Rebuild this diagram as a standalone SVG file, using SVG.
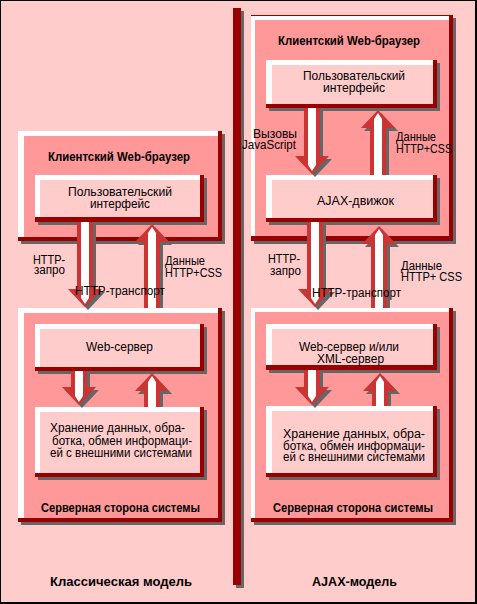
<svg xmlns="http://www.w3.org/2000/svg" width="477" height="604" viewBox="0 0 477 604">
<style>
.t{font-family:"Liberation Sans Narrow","Liberation Sans",Arial,sans-serif;font-size:12px;fill:#000}
.b{font-family:"Liberation Sans Narrow","Liberation Sans",Arial,sans-serif;font-size:13.5px;font-weight:bold;fill:#000}
.sh{fill:#666666}
.dr{fill:#990000}
.wh{fill:#FFFFFF}
.of{fill:#FF9999}
.if{fill:#FFCCCC}
.ar{fill:#CC3333}
</style>
<rect x="0" y="0" width="477" height="604" fill="#FFCCCC"/>
<rect x="0" y="0" width="477" height="1" fill="#000"/>
<rect x="0" y="0" width="1" height="604" fill="#000"/>
<rect x="475" y="0" width="2" height="604" fill="#000"/>
<rect x="0" y="602" width="477" height="2" fill="#000"/>

<g id="divider">
<rect class="sh" x="236" y="11" width="8" height="577"/>
<rect class="dr" x="233" y="8" width="8" height="577"/>
</g>

<!-- Classic model -->
<g id="classic-browser">
<rect class="sh" x="21" y="134" width="204" height="110"/>
<rect class="dr" x="18" y="131" width="204" height="110"/>
<rect class="wh" x="18" y="131" width="200" height="106"/>
<rect class="of" x="24" y="136" width="194" height="101"/>
</g>
<g id="classic-server">
<rect class="sh" x="21" y="311" width="204" height="214"/>
<rect class="dr" x="18" y="308" width="204" height="214"/>
<rect class="wh" x="18" y="308" width="200" height="210"/>
<rect class="of" x="24" y="313" width="194" height="205"/>
</g>
<g id="classic-ui">
<rect class="sh" x="38" y="178" width="169" height="47"/>
<rect class="dr" x="35" y="175" width="169" height="47"/>
<rect class="wh" x="35" y="175" width="165" height="42"/>
<rect class="if" x="40" y="180" width="160" height="37"/>
</g>
<g id="classic-webserver">
<rect class="sh" x="38" y="327" width="169" height="47"/>
<rect class="dr" x="35" y="324" width="169" height="47"/>
<rect class="wh" x="35" y="324" width="165" height="43"/>
<rect class="if" x="40" y="329" width="160" height="38"/>
</g>
<g id="classic-data">
<rect class="sh" x="38" y="410" width="169" height="70"/>
<rect class="dr" x="35" y="407" width="169" height="70"/>
<rect class="wh" x="35" y="407" width="165" height="66"/>
<rect class="if" x="40" y="412" width="160" height="61"/>
</g>

<!-- AJAX model -->
<g id="ajax-browser">
<rect class="sh" x="254" y="18" width="202" height="226"/>
<rect class="dr" x="251" y="15" width="202" height="226"/>
<rect class="wh" x="251" y="16" width="198" height="220"/>
<rect class="of" x="255" y="20" width="194" height="216"/>
</g>
<g id="ajax-server">
<rect class="sh" x="254" y="311" width="202" height="214"/>
<rect class="dr" x="251" y="308" width="202" height="214"/>
<rect class="wh" x="251" y="308" width="198" height="210"/>
<rect class="of" x="255" y="312" width="194" height="206"/>
</g>
<g id="ajax-ui">
<rect class="sh" x="269" y="63" width="171" height="48"/>
<rect class="dr" x="266" y="60" width="171" height="48"/>
<rect class="wh" x="266" y="60" width="167" height="44"/>
<rect class="if" x="272" y="65" width="161" height="39"/>
</g>
<g id="ajax-engine">
<rect class="sh" x="269" y="178" width="171" height="47"/>
<rect class="dr" x="266" y="175" width="171" height="47"/>
<rect class="wh" x="266" y="175" width="167" height="43"/>
<rect class="if" x="272" y="180" width="161" height="38"/>
</g>
<g id="ajax-webserver">
<rect class="sh" x="269" y="327" width="171" height="46"/>
<rect class="dr" x="266" y="324" width="171" height="46"/>
<rect class="wh" x="266" y="324" width="167" height="41"/>
<rect class="if" x="272" y="329" width="161" height="36"/>
</g>
<g id="ajax-data">
<rect class="sh" x="269" y="409" width="171" height="71"/>
<rect class="dr" x="266" y="406" width="171" height="71"/>
<rect class="wh" x="266" y="406" width="167" height="67"/>
<rect class="if" x="272" y="411" width="161" height="62"/>
</g>

<g id="connectors">
<path class="sh" transform="translate(3,3)" d="M77,222 H93 V289 H102 L85,307 L68,289 H77 Z"/>
<path class="ar" d="M77,222 H93 V289 H102 L85,307 L68,289 H77 Z"/>
<path class="wh" d="M81,222 H89 V298 L85,304 L81,298 Z"/>
<path class="sh" transform="translate(3,3)" d="M144,305 V242 H135 L152,224 L169,242 H160 V305 Z"/>
<path class="ar" d="M144,308 V242 H135 L152,224 L169,242 H160 V308 Z"/>
<path class="wh" d="M148,308 V233 L152,227 L156,233 V308 Z"/>
<path class="sh" transform="translate(3,3)" d="M71,371 H87 V387 H96 L79,405 L62,387 H71 Z"/>
<path class="ar" d="M71,371 H87 V387 H96 L79,405 L62,387 H71 Z"/>
<path class="wh" d="M75,371 H83 V396 L79,402 L75,396 Z"/>
<path class="sh" transform="translate(3,3)" d="M144,404 V391 H135 L152,373 L169,391 H160 V404 Z"/>
<path class="ar" d="M144,407 V391 H135 L152,373 L169,391 H160 V407 Z"/>
<path class="wh" d="M148,407 V382 L152,376 L156,382 V407 Z"/>

<path class="sh" transform="translate(3,3)" d="M304,108 H320 V156 H329 L312,174 L295,156 H304 Z"/>
<path class="ar" d="M304,108 H320 V156 H329 L312,174 L295,156 H304 Z"/>
<path class="wh" d="M308,108 H316 V165 L312,171 L308,165 Z"/>
<path class="sh" transform="translate(3,3)" d="M370,172 V128 H361 L378,110 L395,128 H386 V172 Z"/>
<path class="ar" d="M370,175 V128 H361 L378,110 L395,128 H386 V175 Z"/>
<path class="wh" d="M374,175 V119 L378,113 L382,119 V175 Z"/>
<path class="sh" transform="translate(3,3)" d="M307,222 H323 V289 H332 L315,307 L298,289 H307 Z"/>
<path class="ar" d="M307,222 H323 V289 H332 L315,307 L298,289 H307 Z"/>
<path class="wh" d="M311,222 H319 V298 L315,304 L311,298 Z"/>
<path class="sh" transform="translate(3,3)" d="M371,305 V244 H362 L379,226 L396,244 H387 V305 Z"/>
<path class="ar" d="M371,308 V244 H362 L379,226 L396,244 H387 V308 Z"/>
<path class="wh" d="M375,308 V235 L379,229 L383,235 V308 Z"/>
<path class="sh" transform="translate(3,3)" d="M304,370 H320 V387 H329 L312,405 L295,387 H304 Z"/>
<path class="ar" d="M304,370 H320 V387 H329 L312,405 L295,387 H304 Z"/>
<path class="wh" d="M308,370 H316 V396 L312,402 L308,396 Z"/>
<path class="sh" transform="translate(3,3)" d="M372,403 V391 H363 L380,373 L397,391 H388 V403 Z"/>
<path class="ar" d="M372,406 V391 H363 L380,373 L397,391 H388 V406 Z"/>
<path class="wh" d="M376,406 V382 L380,376 L384,382 V406 Z"/>
</g>

<g id="labels">
<text class="b" x="48" y="161" textLength="142" lengthAdjust="spacingAndGlyphs">Клиентский Web-браузер</text>
<text class="t" x="68" y="196" textLength="104" lengthAdjust="spacingAndGlyphs">Пользовательский</text>
<text class="t" x="90" y="207.5" textLength="60" lengthAdjust="spacingAndGlyphs">интерфейс</text>
<text class="t" x="33" y="264" textLength="32" lengthAdjust="spacingAndGlyphs">HTTP-</text>
<text class="t" x="34" y="274" textLength="31" lengthAdjust="spacingAndGlyphs">запро</text>
<text class="t" x="165" y="265" textLength="40" lengthAdjust="spacingAndGlyphs">Данные</text>
<text class="t" x="165" y="277" textLength="57" lengthAdjust="spacingAndGlyphs">HTTP+CSS</text>
<text class="t" x="75" y="294.5" textLength="90" lengthAdjust="spacingAndGlyphs">HTTP-транспорт</text>
<text class="t" x="86" y="351" textLength="67" lengthAdjust="spacingAndGlyphs">Web-сервер</text>
<text class="t" x="50" y="432" textLength="135" lengthAdjust="spacingAndGlyphs">Хранение данных, обра-</text>
<text class="t" x="52" y="444.5" textLength="140" lengthAdjust="spacingAndGlyphs">ботка, обмен информаци-</text>
<text class="t" x="50" y="457" textLength="142" lengthAdjust="spacingAndGlyphs">ей с внешними системами</text>
<text class="b" x="41" y="511.5" textLength="159" lengthAdjust="spacingAndGlyphs">Серверная сторона системы</text>
<text class="b" x="50" y="586" textLength="142" lengthAdjust="spacingAndGlyphs">Классическая модель</text>

<text class="b" x="278" y="45" textLength="142" lengthAdjust="spacingAndGlyphs">Клиентский Web-браузер</text>
<text class="t" x="303" y="80" textLength="102" lengthAdjust="spacingAndGlyphs">Пользовательский</text>
<text class="t" x="323" y="91.5" textLength="62" lengthAdjust="spacingAndGlyphs">интерфейс</text>
<text class="t" x="253" y="138" textLength="44" lengthAdjust="spacingAndGlyphs">Вызовы</text>
<text class="t" x="242" y="149" textLength="54" lengthAdjust="spacingAndGlyphs">JavaScript</text>
<text class="t" x="396" y="141" textLength="40" lengthAdjust="spacingAndGlyphs">Данные</text>
<text class="t" x="396" y="152.5" textLength="56" lengthAdjust="spacingAndGlyphs">HTTP+CSS</text>
<text class="t" x="317" y="205" textLength="77" lengthAdjust="spacingAndGlyphs">AJAX-движок</text>
<text class="t" x="268" y="263" textLength="32" lengthAdjust="spacingAndGlyphs">HTTP-</text>
<text class="t" x="270" y="275" textLength="31" lengthAdjust="spacingAndGlyphs">запро</text>
<text class="t" x="401" y="270" textLength="41" lengthAdjust="spacingAndGlyphs">Данные</text>
<text class="t" x="401" y="280.5" textLength="61" lengthAdjust="spacingAndGlyphs">HTTP+ CSS</text>
<text class="t" x="312" y="297" textLength="89" lengthAdjust="spacingAndGlyphs">HTTP-транспорт</text>
<text class="t" x="299" y="351" textLength="100" lengthAdjust="spacingAndGlyphs">Web-сервер и/или</text>
<text class="t" x="317" y="362.5" textLength="67" lengthAdjust="spacingAndGlyphs">XML-сервер</text>
<text class="t" x="283" y="438" textLength="142" lengthAdjust="spacingAndGlyphs">Хранение данных, обра-</text>
<text class="t" x="283" y="450" textLength="142" lengthAdjust="spacingAndGlyphs">ботка, обмен информаци-</text>
<text class="t" x="283" y="461" textLength="142" lengthAdjust="spacingAndGlyphs">ей с внешними системами</text>
<text class="b" x="273" y="511.5" textLength="160" lengthAdjust="spacingAndGlyphs">Серверная сторона системы</text>
<text class="b" x="312" y="586" textLength="85" lengthAdjust="spacingAndGlyphs">AJAX-модель</text>
</g>
</svg>
